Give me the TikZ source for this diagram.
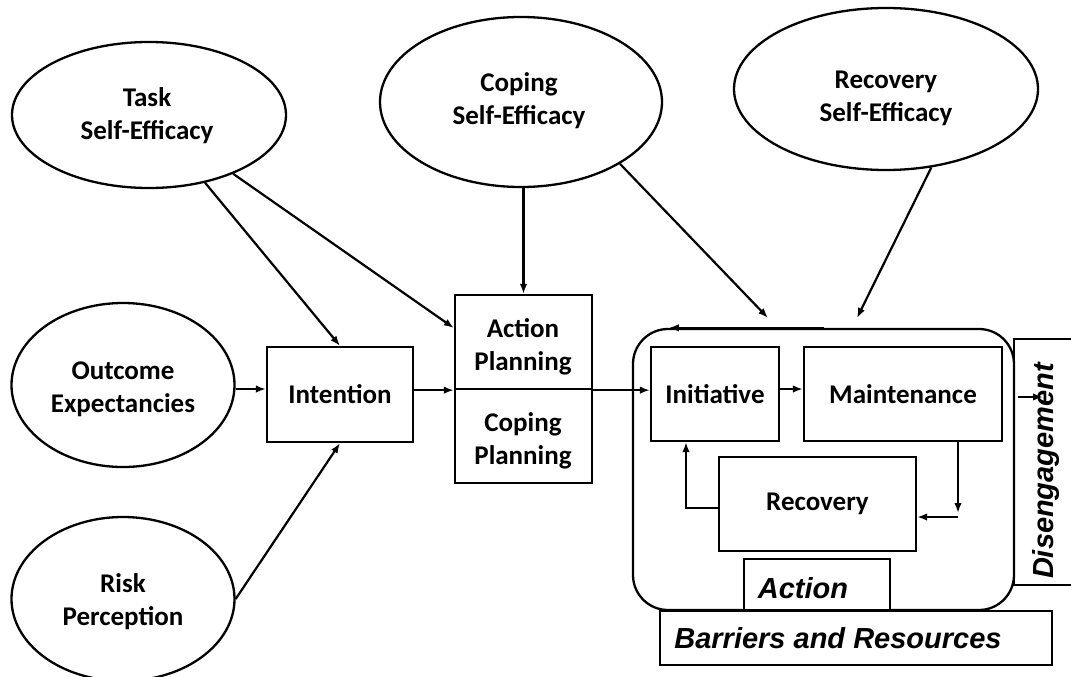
\documentclass[tikz,border=0pt]{standalone}
\usepackage{fontspec}
\newfontfamily\carl{Carlito}
\newfontfamily\lsans{Liberation Sans}
\usetikzlibrary{arrows.meta,shapes.geometric,calc}
\begin{document}
\begin{tikzpicture}[x=1pt,y=-1pt,
  arr/.style={line width=2.2pt,-{Latex[length=10pt,width=7.5pt]}},
  ell/.style={draw,ellipse,line width=2.3pt,inner sep=0pt},
  box/.style={draw,rectangle,line width=2.3pt,inner sep=0pt,align=center,font=\carl\bfseries\fontsize{27}{33}\selectfont},
  lbl/.style={font=\carl\bfseries\fontsize{27}{33}\selectfont,align=center,inner sep=0pt},
  ital/.style={font=\lsans\bfseries\itshape\fontsize{29}{34}\selectfont,inner sep=0pt}]
\useasboundingbox (0,0) rectangle (1071,677);

% ellipses
\node[ell,minimum width=274pt,minimum height=146pt] (task) at (149,115) {};
\node[lbl] (taskt) at (147,116) {Task\\Self-Efficacy};
\node[ell,minimum width=282pt,minimum height=170pt] (cope) at (521,102) {};
\node[lbl] (copet) at (519,101) {Coping\\Self-Efficacy};
\node[ell,minimum width=304pt,minimum height=162pt] (recse) at (886,89) {};
\node[lbl] (recset) at (886,98) {Recovery\\Self-Efficacy};
\node[ell,minimum width=223pt,minimum height=164pt] (out) at (123,385) {};
\node[lbl] (outt) at (123,389) {Outcome\\Expectancies};
\node[ell,minimum width=223pt,minimum height=164pt] (risk) at (123,599) {};
\node[lbl] (riskt) at (123,602) {Risk\\Perception};

% boxes
\node[box,minimum width=146pt,minimum height=95pt] (int) at (340,394.5) {Intention};
\node[box,minimum width=137pt,minimum height=94pt] (actp) at (523.5,342) {};
\node[lbl] (actpt) at (523,347) {Action\\Planning};
\node[box,minimum width=137pt,minimum height=94pt] (copp) at (523.5,436) {};
\node[lbl] (coppt) at (523,441) {Coping\\Planning};

\node[draw,rounded corners=35pt,line width=2.3pt,minimum width=381pt,minimum height=281pt] (actbox) at (823.5,469.5) {};
\node[box,minimum width=128pt,minimum height=94pt] (init) at (715,394) {Initiative};
\node[box,minimum width=198pt,minimum height=94pt] (maint) at (903,394) {Maintenance};
\node[box,minimum width=197pt,minimum height=94pt] (rec) at (817.5,504) {Recovery};
\node[box,fill=white,minimum width=146pt,minimum height=51pt] (actlbl) at (817,584.5) {};
\node[ital] (actlblt) at (803,588) {Action};
\node[box,minimum width=392pt,minimum height=54pt] (barr) at (856,638) {};
\node[ital] (barrt) at (838,638.5) {Barriers and Resources};
\node[box,minimum width=76pt,minimum height=246pt] (dis) at (1052,462) {};
\node[ital,rotate=90] (dist) at (1046,471) {Disengagement};

% connectors
\coordinate (c1) at (768,318);
\coordinate (c2) at (857,318);
\draw[arr] (task) -- (int.north);
\draw[arr] (task) -- ([yshift=14pt]actp.west);
\draw[arr] (actp.north |- cope.south) -- (actp.north);
\draw[arr] (cope.-32) -- (c1);
\draw[arr] (recse.-60) -- (c2);
\coordinate (o1) at ([yshift=-4pt]out.east);
\draw[arr] (o1) -- (o1 -| int.west);
\draw[arr] (risk.east) -- (int.south);
\draw[arr] (actp.south west -| int.east) -- (actp.south west);
\draw[arr] (actp.south east) -- (actp.south east -| init.west);
\draw[arr] ([yshift=5pt]init.east) -- ([yshift=5pt]maint.west);
\coordinate (m1) at (958,517);
\draw[arr] (maint.south -| m1) -- ([yshift=4pt]m1);
\draw[arr] (m1) -- (m1 -| rec.east);
\coordinate (r1) at (686,508);
\draw[arr] (r1 -| rec.west) -- (r1) -- (r1 |- init.south);
\draw[arr] (actbox.north) -- ([xshift=37pt]actbox.north west);
\coordinate (d1) at (1018,397);
\draw[arr] (d1) -- ++(25,0);
\end{tikzpicture}
\end{document}
